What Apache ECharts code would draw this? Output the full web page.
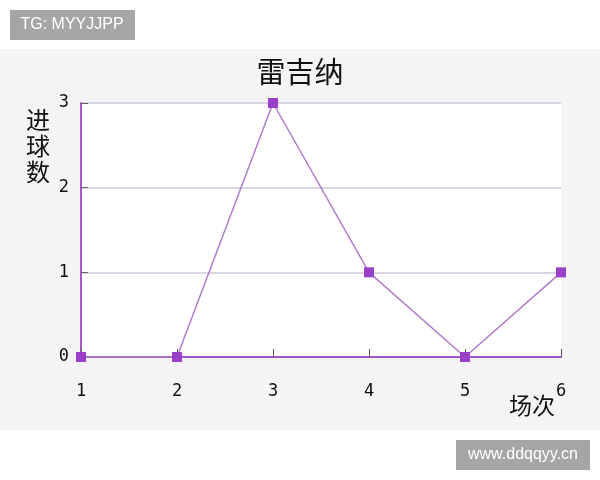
<!DOCTYPE html>
<html>
<head>
<meta charset="utf-8">
<script src="https://cdn.jsdelivr.net/npm/echarts@6/dist/echarts.min.js"></script>
<style>
    html, body { margin: 0; padding: 0; background: #ffffff; }
    #chart { width: 600px; height: 480px; }
</style>
</head>
<body>
<div id="chart"></div>
<script>
    var cjkFont = 'Noto Sans CJK SC, sans-serif';
    var monoFont = 'DejaVu Sans Mono, monospace';

    // 场次 / 进球数
    var matches = [1, 2, 3, 4, 5, 6];
    var goals = [0, 0, 3, 1, 0, 1];
    var yTicks = [0, 1, 2, 3];

    var points = matches.map(function (m, i) {
        return [m, goals[i]];
    });

    var chart = echarts.init(document.getElementById('chart'));

    var option = {
        backgroundColor: '#ffffff',
        animation: false,
        title: {
            text: '雷吉纳',
            left: 'center',
            top: 52,
            textStyle: {
                color: '#111111',
                fontFamily: cjkFont,
                fontSize: 29,
                fontWeight: 'normal'
            }
        },
        grid: {
            left: 81,
            right: 39,
            top: 103,
            bottom: 123,
            show: true,
            backgroundColor: '#ffffff',
            borderWidth: 0
        },
        xAxis: {
            type: 'value',
            min: matches[0],
            max: matches[matches.length - 1],
            interval: 1,
            axisLine: { lineStyle: { color: '#a457c4', width: 2 } },
            axisTick: { inside: true, length: 8, lineStyle: { color: '#555555', width: 1 } },
            axisLabel: {
                color: '#111111',
                fontFamily: monoFont,
                fontSize: 17,
                margin: 26
            },
            splitLine: { show: false }
        },
        yAxis: {
            type: 'value',
            min: yTicks[0],
            max: yTicks[yTicks.length - 1],
            interval: 1,
            axisLine: { show: true, lineStyle: { color: '#a457c4', width: 2 } },
            axisTick: { show: true, inside: true, length: 7, lineStyle: { color: '#666666', width: 1 } },
            axisLabel: {
                color: '#111111',
                fontFamily: monoFont,
                fontSize: 17,
                margin: 12
            },
            splitLine: { lineStyle: { color: '#dcd6e2', width: 2 } }
        },
        graphic: [
            {
                type: 'rect',
                z: -100,
                silent: true,
                shape: { x: 0, y: 49, width: 600, height: 381 },
                style: { fill: '#f4f4f4' }
            },
            {
                type: 'rect',
                z: 100,
                shape: { x: 10, y: 10, width: 125, height: 30 },
                style: { fill: '#a6a6a6' }
            },
            {
                type: 'text',
                z: 101,
                x: 72,
                y: 25,
                style: {
                    text: 'TG: MYYJJPP',
                    fill: '#ffffff',
                    font: '16px Liberation Sans, Arial, sans-serif',
                    align: 'center',
                    verticalAlign: 'middle'
                }
            },
            {
                type: 'rect',
                z: 100,
                shape: { x: 456, y: 440, width: 134, height: 30 },
                style: { fill: '#a6a6a6' }
            },
            {
                type: 'text',
                z: 101,
                x: 523,
                y: 455,
                style: {
                    text: 'www.ddqqyy.cn',
                    fill: '#ffffff',
                    font: '16px Liberation Sans, Arial, sans-serif',
                    align: 'center',
                    verticalAlign: 'middle'
                }
            },
            {
                type: 'text',
                z: 50,
                x: 38,
                y: 146,
                style: {
                    text: '进\n球\n数',
                    fill: '#111111',
                    font: '24px ' + cjkFont,
                    lineHeight: 26,
                    align: 'center',
                    verticalAlign: 'middle'
                }
            },
            {
                type: 'text',
                z: 50,
                x: 532,
                y: 405,
                style: {
                    text: '场次',
                    fill: '#111111',
                    font: '23px ' + cjkFont,
                    align: 'center',
                    verticalAlign: 'middle'
                }
            }
        ],
        series: [{
            type: 'line',
            data: points,
            symbol: 'rect',
            symbolSize: 10,
            lineStyle: { color: '#b07ccc', width: 1.5 },
            itemStyle: { color: '#9a3fc8' },
            z: 5
        }]
    };

    chart.setOption(option);
</script>
</body>
</html>
